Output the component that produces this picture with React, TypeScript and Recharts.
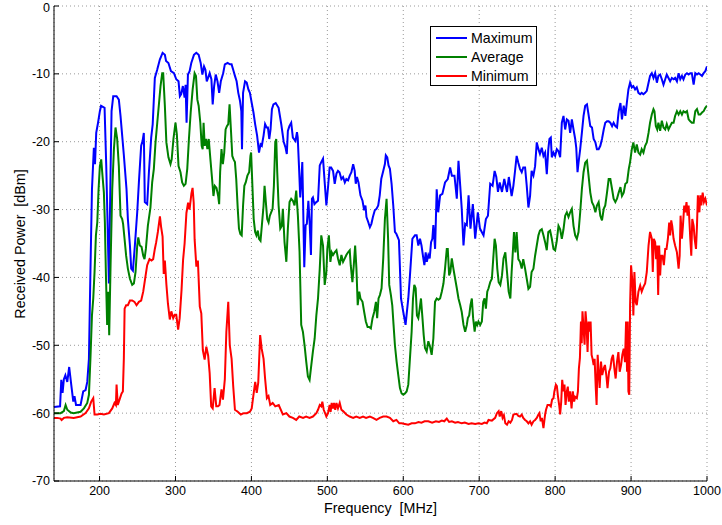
import { LineChart, Line, XAxis, YAxis, CartesianGrid, Legend } from 'recharts';

// [frequency MHz, received power dBm]
const maximum: [number, number][] = [
  [140, -59.1], [148, -59], [149.6, -55.1], [151.3, -57], [153, -55], [155, -54.4], [157.5, -55.4], [160, -53.2],
  [162.7, -55.8], [165.4, -58.3], [167, -57.5], [169, -58.8], [175, -58.8], [178.5, -56.8], [181.6, -56.6], [183.8, -55.4],
  [186, -52], [188, -39], [190, -27], [192.5, -20.9], [194, -23.3], [195.6, -18.7], [198, -17.2], [200.4, -15.5],
  [202, -14.7], [206.6, -15], [208.8, -23.5], [211, -34.3], [212.3, -40.9], [214.5, -24.5], [215.8, -15.5], [218, -13.3],
  [222.4, -13.3], [225.4, -13.8], [227.6, -16.2], [229.8, -19.1], [232, -22], [235.5, -27], [237.3, -31.4], [240, -35.3],
  [241.7, -38.7], [243.9, -39], [246.5, -35.3], [249.6, -30.4], [251.8, -26], [254.8, -20.6], [256.6, -19.9], [258.3, -18.7],
  [259.6, -28.9], [262.7, -29.2], [265, -24.5], [268, -19.4], [270, -17.4], [272.8, -10.6], [275.9, -9.4], [279.4, -7.9],
  [283, -6.9], [286, -7.2], [287.6, -8.1], [290.7, -8.4], [294, -9.6], [298, -9.9], [301, -10.8], [304, -11.1],
  [305.8, -13.3], [307.5, -13], [309.7, -11.8], [312, -13.5], [313.3, -11.6], [314.6, -17.2], [316.4, -10.1], [318.6, -9.6],
  [320.8, -8.4], [324.3, -7.2], [327.4, -6.9], [330.5, -7.2], [333.2, -8.4], [335.4, -10.1], [337.6, -8.9], [339.4, -9.4],
  [341.2, -11.1], [342.9, -10.6], [345, -9.9], [347.3, -10.8], [349, -14.5], [350.9, -11.8], [353, -10.1], [355.3, -11.1],
  [357.5, -12.8], [359.7, -11.1], [362.8, -9.9], [365, -8.6], [368.6, -8.4], [371.7, -8.6], [373.9, -8.6], [376, -9.4],
  [378.3, -10.3], [380.5, -11.1], [382.7, -12.8], [385, -14], [386.7, -15.5], [387.6, -21.1], [389, -12.8], [391.6, -11.1],
  [393.8, -11.3], [396, -12.3], [398, -12.8], [400.4, -14.3], [402.7, -15.7], [404.9, -17.4], [407.5, -19.1], [410, -21.6],
  [412, -20.4], [413.7, -20.6], [416, -19.1], [418, -17.4], [420, -17.9], [421.7, -17.9], [423.5, -19.6], [425.2, -18.2],
  [427, -15.2], [429, -14.5], [432, -14.3], [435.8, -15], [439.4, -17.5], [442.5, -20], [444.8, -20.8], [446.6, -21.8],
  [448, -18.4], [450, -17.7], [452.4, -17.2], [454.6, -19.4], [458, -19.9], [460, -18.6], [461, -19.4], [462.6, -23.5],
  [464.3, -28.2], [465.6, -26], [467, -23], [467.8, -27.4], [469.6, -38.5], [471.4, -32.3], [473, -32.1], [475, -28.7],
  [476.6, -31.8], [478.4, -36.7], [479.7, -28.4], [481, -28.2], [483, -29.2], [485.5, -28.9], [487.7, -28.7], [490, -23.5],
  [492, -23], [494.3, -22.5], [496.5, -26], [498.7, -29.4], [500.9, -26.7], [503, -23.8], [505, -23.8], [507.5, -24.3],
  [509.7, -26.2], [512, -24.7], [514, -24.3], [516, -24.5], [518.5, -25.5], [520.7, -25.2], [523, -26], [525, -25.5],
  [527.3, -25.7], [529.5, -25], [531.7, -24.5], [534, -23.3], [536, -24.3], [537.4, -26.2], [539, -25.2], [541, -26],
  [543.6, -27.9], [546.3, -28.7], [548.5, -30.1], [550.2, -29.4], [551.5, -31.1], [553.7, -31.8], [556, -32.6], [558, -32.1],
  [560, -31.1], [562.5, -30.1], [564.7, -29.9], [567, -29.4], [569, -27.9], [571, -25.5], [573.6, -24.3], [575.8, -23.3],
  [577, -22], [578.9, -22.3], [580.6, -23.5], [582.4, -24], [584.6, -26.2], [586.8, -29.4], [589, -33.3], [591, -33.6],
  [594.3, -34.5], [597, -43.1], [600, -45.1], [603, -47], [606.6, -43.1], [608.8, -39.7], [612, -34.3], [615.4, -33.8],
  [617.6, -33.8], [619.8, -35.3], [622, -34.3], [624, -35.3], [626.4, -37.2], [627.8, -38.2], [629.5, -36.3], [631, -37.7],
  [633, -36.7], [634.8, -37.2], [636.6, -34.8], [638.3, -34.3], [639.6, -32.3], [641, -34.3], [641.9, -35.8], [644, -27],
  [646, -30.4], [648.5, -27.9], [651.5, -27.7], [655, -26], [658.6, -25.5], [661.7, -23.8], [664, -25], [667.4, -25],
  [670.5, -28.4], [672.7, -22.8], [675, -26.5], [677, -29.9], [679.3, -35.3], [681.5, -32.1], [683.7, -32.3], [686, -27.9],
  [688.5, -32.8], [691.6, -29.2], [694.7, -34.3], [698.2, -30.4], [701, -32.8], [705.7, -33.8], [708.8, -31.4], [711.5, -30.9],
  [714.5, -26.2], [717.6, -26.5], [720.3, -24.3], [722.5, -25.2], [724.7, -27.4], [727, -26], [730, -27.4], [733, -25.5],
  [736.6, -27.4], [739, -25.2], [742.7, -28], [745, -26.5], [747, -24.5], [749.3, -22.1], [751.5, -23.1], [753.7, -24],
  [756, -24.5], [758, -23.8], [760.4, -23.8], [762.6, -26.5], [764.8, -29.7], [767, -28], [769, -24.3], [771.4, -25],
  [773.6, -23.6], [775.8, -20.1], [778, -21.1], [780, -21.8], [782.4, -20.9], [784.6, -22.1], [786.8, -21.6], [789, -24.8],
  [791, -21.1], [792.5, -19.6], [794.3, -19.4], [795.6, -22.3], [797.8, -21.6], [800, -22.1], [802.2, -21.1], [804.4, -21.4],
  [806.6, -22.3], [808.8, -17.2], [811, -16.2], [813.2, -18.2], [815.4, -16.7], [817.6, -16.9], [819.8, -18.7], [822, -16.7],
  [824.2, -18.2], [826.4, -19.6], [827.8, -20.9], [829.5, -24.5], [830.8, -23.1], [833, -21.1], [835.2, -18.7], [837.4, -16.2],
  [839.6, -14.7], [841.9, -14.5], [844, -16], [846.3, -17.7], [848.5, -17.9], [850.7, -19.6], [853, -20.1], [855, -21.1],
  [857.3, -21.1], [859.5, -20.6], [861.7, -19.6], [864, -18.2], [866, -17.2], [868.3, -17], [870.5, -17], [872.7, -17.2],
  [875, -17.7], [877, -17.2], [879.3, -17.7], [881.5, -17.9], [883.7, -15.5], [886, -14.3], [888, -16.7], [890.3, -14.7],
  [892.5, -16.2], [894.7, -14], [896.5, -12.3], [898.7, -11.3], [901, -12], [903, -11.8], [905.3, -12.3], [907.5, -12],
  [909.7, -12.8], [912, -13], [914, -12.8], [916.3, -13], [918.5, -12.8], [920.7, -12.5], [923, -11.3], [925, -10.3],
  [927.3, -9.9], [929.5, -10.6], [931.7, -9.9], [934, -11.3], [936, -10.3], [938.3, -10.1], [940.5, -10.8], [942.7, -11.6],
  [945, -10.8], [947, -10.1], [949.3, -10.6], [951.5, -11.1], [953.7, -10.6], [956, -10.8], [958, -10.6], [960.4, -11.1],
  [962.6, -9.9], [964.8, -10.8], [967, -10.3], [969, -10.8], [971.4, -10.1], [973.6, -9.9], [975.8, -10.1], [978, -9.9],
  [980, -9.9], [982.4, -11.6], [984.6, -9.9], [986.8, -10.1], [989, -9.9], [991.2, -10.1], [993.4, -10.3], [995.6, -9.9],
  [997.8, -9.6], [1000, -8.9],
];

const average: [number, number][] = [
  [140, -60], [148.7, -60], [153, -59.7], [155.3, -58.8], [157.5, -59.5], [162, -59.9], [166, -60], [175, -59.8],
  [179.4, -59.3], [183.8, -58.5], [186, -57.3], [188, -51.9], [190, -45.6], [191.7, -43.1], [193.4, -39.2], [195.2, -33.8],
  [197, -31.9], [198.7, -27], [200.4, -23.6], [202.2, -22.6], [203.5, -24.5], [205.7, -27.5], [207, -31.9], [208.3, -39.2],
  [210, -47], [211.4, -42.1], [212.7, -48.5], [214.5, -38.2], [216.7, -27], [218.9, -21.1], [221, -17.9], [223.2, -19.6],
  [225.4, -23.6], [227.6, -30.9], [229.8, -31.4], [231, -32.1], [232.9, -34.3], [235, -36.8], [237.3, -38.7], [240, -40.2],
  [243, -41.1], [245.2, -40.9], [247.4, -39.2], [249.6, -35.3], [251, -34.1], [253, -35.3], [255.3, -35.5], [257.5, -36.8],
  [259.2, -37.3], [261, -35.8], [263.6, -32.4], [267, -29.7], [269.3, -26], [271.5, -24], [273.7, -20.1], [276, -17.2],
  [278, -14.7], [280.3, -11.8], [282.5, -9.9], [283.8, -9.9], [286, -14.7], [288, -20.1], [290.7, -22.3], [293.4, -23.3],
  [295, -22.6], [297.3, -19.6], [300, -17.2], [301.8, -18.9], [304, -23.6], [306.6, -24.5], [308.8, -26], [311, -26.5],
  [313.3, -26.2], [315.5, -24], [317.7, -19.6], [320, -15.7], [322.6, -12.3], [325.2, -9.9], [327, -10.3], [328.8, -13.8],
  [330.5, -14.7], [332.7, -17.2], [334.5, -20.6], [335.8, -21.1], [337, -17.2], [338.5, -20.6], [340.3, -19.6], [342, -21.1],
  [343.8, -19.6], [346, -22.6], [348.2, -25.5], [350, -28], [351.8, -26.5], [354, -26.8], [356.2, -28], [357.5, -29.2],
  [358.8, -24.5], [360.6, -21.1], [362.4, -23.3], [364.2, -21.6], [366, -18.2], [367.7, -17.7], [369.5, -17.4], [371.2, -14.5],
  [373, -18.2], [374.8, -22.1], [376.5, -22.6], [378.3, -23], [380, -25.5], [382, -29.9], [383.6, -32.8], [385.4, -33.6],
  [387.2, -33.8], [389, -29.4], [390.7, -26.5], [392.5, -26], [394.7, -25], [397, -24.5], [398.7, -22.1], [399.6, -21.6],
  [401.3, -26.5], [403, -31.4], [404.9, -33.3], [406.6, -33.8], [408.4, -33.1], [410, -34.3], [412, -34.6], [413.7, -32.4],
  [416, -29.4], [417.3, -26.5], [419, -28.9], [420.8, -31.4], [422.6, -31.9], [424.3, -30.9], [426, -30.4], [427.9, -29.9],
  [429.6, -26.5], [431.4, -20.1], [432.7, -19.6], [434, -24.5], [435.8, -29.4], [438, -32.8], [440, -32.4], [441.4, -29.9],
  [443.6, -34.8], [446, -37.7], [448, -32.8], [450.2, -28.9], [452.4, -28.4], [454.6, -28.7], [456.8, -29.4], [459, -27.2],
  [461.2, -30.9], [463.4, -36.3], [465.6, -47], [467.8, -48], [470, -50], [472.2, -52.4], [474.4, -54.6], [476.6, -55.1],
  [478.9, -52.9], [481, -50.9], [483.3, -49], [485.5, -45.6], [487.7, -43.1], [490, -38.7], [492, -33.8], [494.3, -35.3],
  [496.5, -41.1], [498.7, -39.2], [500, -35.8], [502, -33.8], [504, -37.7], [505.7, -36.3], [507.5, -36.7], [509.7, -36.3],
  [512, -36], [514, -37.2], [516.3, -38.2], [518.5, -36.7], [520.7, -37.7], [523, -37.2], [525, -36.7], [527.3, -36.3],
  [529.5, -36], [530.8, -38.2], [533, -40.7], [534.8, -38.2], [536.6, -35.3], [538.3, -38.7], [540, -44.1], [542, -42.1],
  [543.6, -43.1], [546.3, -43.6], [548.5, -45.1], [550.7, -46.5], [553, -47.3], [555, -47.3], [557.3, -47.5], [559.5, -46],
  [561.7, -45.1], [564, -43.6], [565.6, -46], [567.4, -43.1], [569.2, -42.6], [571.4, -41.6], [573.6, -37.2], [575.8, -31.4],
  [578, -28.4], [580, -34.3], [581.5, -41.1], [583.7, -42.6], [585.5, -44.1], [587.2, -47], [589, -50], [591.2, -52.4],
  [593.4, -54.4], [595.6, -56.3], [597.8, -57.1], [600, -57.3], [602.2, -57.1], [604.4, -56.8], [606.6, -55.8], [608.8, -51.9],
  [611, -48], [612.8, -43.1], [614.5, -41.1], [616.3, -41.6], [618, -45.6], [619.8, -46], [621.6, -44.6], [623.3, -43.1],
  [625, -45.6], [626.9, -48.5], [628.6, -50.4], [630.8, -50.9], [633, -49.4], [635.2, -50.2], [637.4, -51.4], [639.6, -49],
  [641.8, -43.6], [644, -43.1], [646.3, -43.3], [648.5, -43.1], [650.7, -42.1], [652.9, -40.9], [655, -38.7], [657.3, -35.8],
  [658.6, -35.8], [660.4, -39.7], [662, -39.2], [663.9, -37.2], [666, -38.7], [668.3, -40.2], [670.5, -41.6], [672.7, -43.1],
  [675, -44.1], [677, -45.1], [679.3, -47], [681.5, -48], [683.7, -47], [685, -46], [686.8, -45.6], [688.5, -44.1],
  [690.3, -43.1], [692, -46], [694, -48], [695.6, -46.5], [697.4, -47], [699, -46.5], [701.3, -47], [703.5, -46.5],
  [705.3, -43.6], [707, -43.1], [708.8, -44.6], [710.6, -42.1], [712.3, -41.6], [714.5, -40.7], [716.7, -40.2], [718.5, -37.2],
  [720.3, -34.3], [722, -35.3], [723.8, -38.7], [725.6, -40.7], [727.8, -41.1], [730, -39.7], [732, -37.2], [734.4, -36.3],
  [736.6, -39.2], [738.8, -42.1], [741, -43.1], [742.7, -39.2], [744, -36.8], [745.8, -33.3], [747.6, -36.3], [749.3, -33.3],
  [751.5, -37.3], [753.7, -37.7], [756, -38.7], [758, -37.3], [760.4, -38.7], [762.6, -40.2], [764.8, -41.7], [767, -41.4],
  [769, -39.2], [771.4, -38.7], [773.6, -36.8], [775.8, -35.3], [778, -33.8], [780, -33.1], [782.4, -32.9], [784.6, -33.8],
  [786.8, -34.8], [789, -36], [791, -33.3], [793.4, -33.1], [795.6, -34.3], [797.8, -35.8], [800, -36], [802.2, -34.6],
  [804.4, -32.4], [806.6, -32.9], [808.8, -34.3], [811, -32.9], [813.2, -30.9], [815.4, -30.4], [817.6, -31.1], [819.8, -30.4],
  [822, -29.9], [824.2, -32.4], [826.4, -33.8], [828.6, -34.3], [830.8, -33.3], [833, -30.4], [835.2, -27], [837.4, -24.5],
  [839.6, -23.1], [841.9, -22.8], [844, -25], [846.3, -27.5], [848.5, -28.9], [850.7, -29.4], [853, -30.4], [855, -29.4],
  [857.3, -28.9], [859.5, -30.9], [861.7, -31.6], [864, -29.9], [866, -29.4], [868.3, -27.5], [870.5, -25.5], [872.7, -25.5],
  [875, -27], [877, -28.4], [879.3, -28.9], [881.5, -28.4], [883.7, -27.5], [886, -26.7], [888, -28], [890.3, -27.5],
  [892.5, -26.2], [894.7, -26], [897, -24], [898.7, -23], [901, -21.1], [903, -20.1], [905.3, -21.6], [907.5, -20.4],
  [909.7, -21.6], [912, -21.9], [914, -21.1], [916.3, -21.6], [918.5, -20.6], [920.7, -20.1], [923, -18.7], [925, -17.2],
  [927.3, -16], [929.5, -15.2], [930.8, -15.5], [932.6, -17.7], [934.4, -18.2], [936, -17.2], [938.3, -18.4], [940.5, -16.9],
  [942.7, -17.9], [945, -18.2], [947, -17.4], [949.3, -18.2], [951.5, -17.7], [953.7, -17.2], [956, -17.2], [958, -16.2],
  [960.4, -15.5], [962.6, -16], [964.8, -15.5], [967, -16], [969, -15.5], [971.4, -15.7], [973.6, -15.5], [975.8, -16.7],
  [978, -17], [980, -17.2], [982.4, -17.2], [984.6, -15.5], [986.8, -15.2], [989, -16], [991.2, -16], [993.4, -15.7],
  [995.6, -15.5], [997.8, -15], [1000, -14.7],
];

const minimum: [number, number][] = [
  [140, -60.7], [144.3, -60.7], [148.7, -60.8], [150, -61], [153, -60.7], [157.5, -60.6], [166, -60.7], [175, -60.5],
  [181.6, -60], [186, -59.3], [189, -58.3], [191.7, -57.8], [193.4, -60.2], [197, -60.2], [201.3, -60.1], [205.7, -60.2],
  [212.3, -60], [216.7, -59.3], [219.7, -58.5], [221.5, -58.8], [222.4, -55.8], [224, -58.8], [226.3, -58], [229, -57.1],
  [230.7, -56.8], [232, -51.9], [233, -44.6], [235, -44.1], [237.3, -44.1], [240, -43.4], [243, -43.4], [246, -43.6],
  [248.7, -44.1], [251.8, -43.6], [254.8, -43.4], [257.5, -42.1], [260, -40.2], [262.7, -38.2], [265.8, -37.3], [268.4, -37.5],
  [270.6, -37.3], [272.8, -35.8], [274.6, -34.8], [276.8, -33.3], [279.5, -31], [281, -32.5], [283, -34], [284.5, -39.5],
  [286, -37.5], [288, -41], [290, -43.8], [292.5, -46.2], [294.5, -45], [297, -46], [299, -45.5], [301, -45.5],
  [303.5, -47.7], [305.5, -46], [308, -41.8], [310, -37.4], [312, -35], [314.4, -30.5], [316.6, -29], [318.5, -30],
  [321, -27.6], [322.5, -26.8], [324, -29], [325.2, -34.4], [327.5, -38.4], [329.5, -37.5], [332, -44.3], [334, -45.3],
  [336, -50.7], [338.4, -52.1], [340.6, -50.2], [343, -51.5], [345, -54.1], [347, -59], [349, -59.3], [351.5, -56.3],
  [353.7, -59], [356, -59], [358, -58.8], [360.6, -56.5], [362.5, -58], [365, -55], [367, -48], [369.5, -43.6],
  [371.5, -50], [373.9, -52], [376, -56], [378.3, -59.5], [382, -59.8], [386, -60.2], [390, -60], [394, -60],
  [398, -59.8], [400.4, -59.3], [402.7, -57.3], [405, -55.4], [407, -57], [409, -55.5], [411.5, -48.5], [413.5, -50.5],
  [416, -52], [418, -54.9], [420.4, -57.8], [422.5, -57.5], [424.8, -58.8], [428, -58.5], [431.4, -59], [436, -58.8],
  [441.4, -60.2], [446, -60], [450, -60.5], [454.6, -60.7], [459, -61], [463, -60.5], [468, -60.7], [472, -60.5],
  [476.6, -60.7], [481, -60.5], [485.5, -60], [487.7, -59.5], [490, -58.8], [492, -59], [493.4, -58.3], [495.2, -59.5],
  [497, -60], [498.7, -60.5], [500.9, -60], [503, -58.8], [504.3, -59.8], [505.7, -58.5], [507.5, -59.3], [508.8, -58.5],
  [510.4, -59.5], [512, -58.5], [514, -59.3], [516.3, -58.5], [518.5, -59.5], [520.7, -59.7], [525, -60.2], [529.5, -60.5],
  [534, -60.7], [538, -60.5], [542.7, -60.7], [547, -60.5], [551, -60.7], [556, -60.5], [560, -60.7], [564.7, -61],
  [569, -60.7], [573.6, -60.5], [578, -60.5], [582.4, -60.7], [586.8, -61.2], [591, -61], [594.7, -61.5], [597.8, -61.5],
  [602, -61.6], [606.6, -61.7], [611, -61.5], [615.4, -61.5], [620, -61.3], [624, -61.4], [628, -61.2], [633, -61.2],
  [638, -61.4], [643, -61.2], [647, -61.3], [650.7, -61.1], [654, -61.2], [657.3, -60.8], [660.4, -61.3], [664, -61.2],
  [668.3, -61.4], [672, -61.3], [677, -61.5], [681, -61.4], [686, -61.6], [690, -61.5], [694.7, -61.6], [699, -61.5],
  [703.5, -61.6], [707, -61.4], [710, -61.5], [712.3, -61], [716.7, -61.1], [721, -60.7], [723.3, -60], [725.6, -59.7],
  [727, -60.5], [729, -59.7], [730.8, -60.7], [732.5, -60.3], [734.4, -61.5], [736.6, -61.7], [738.8, -61.2], [741, -61.4],
  [743.2, -61], [745, -60.2], [749.3, -60.1], [751.5, -60.4], [753.7, -60.5], [756, -60.2], [758, -60.7], [760.4, -61],
  [762.6, -61.2], [764.8, -61.5], [767, -61.2], [769, -61.7], [771.4, -61.2], [773.6, -61], [775.8, -60.7], [778, -60.2],
  [779.3, -60], [781, -61.2], [782.6, -60.7], [784.6, -62.2], [786.8, -60.2], [788, -59.5], [790, -58.8], [792.5, -58.8],
  [794.3, -59], [796, -58], [797.8, -57.8], [799, -56.8], [801, -55.8], [802.3, -56], [803.5, -57.3], [805.3, -58.8],
  [806.6, -60.2], [808, -58.3], [809.3, -55.1], [811, -56.8], [812.3, -55.8], [813.7, -58.8], [815.4, -56.8], [816.7, -56.1],
  [818, -58.3], [819.8, -56.8], [821.6, -59.3], [823.3, -56.8], [825, -58.3], [826.4, -57.6], [828.6, -57.8], [830, -56.8],
  [831.3, -53.4], [832.6, -51.9], [834, -46.5], [835, -49.7], [836, -45], [837.4, -47.5], [838.8, -49.9], [840, -45],
  [841.4, -47], [842.7, -51], [844, -46.5], [845.4, -48], [846.7, -46.5], [848, -51.4], [849.3, -52], [850.7, -52.9],
  [852, -52], [853.5, -56.3], [854.6, -58.8], [856, -51.4], [857.3, -53.9], [858.6, -56.3], [860.4, -52.4], [862, -54.4],
  [864, -53.4], [865.6, -52.9], [867.4, -54.4], [869, -56.3], [871, -53.9], [872.7, -53.4], [874.4, -52], [876.2, -51.4],
  [878, -53.4], [879.7, -54.9], [881.5, -52.4], [883.3, -51], [885, -53.9], [886.8, -52.9], [888.5, -51.4], [890.3, -50.5],
  [892, -52.5], [893.4, -46.5], [894.7, -53.9], [895.6, -46.5], [896.5, -56.8], [897.6, -57.3], [898.7, -44.1], [900, -38.2],
  [901.8, -40.7], [903, -45.6], [904.4, -39.2], [906, -43.6], [907.5, -44.1], [909.7, -42.1], [912, -41.2], [914, -42.1],
  [916.3, -41.4], [918.5, -40.9], [920.7, -39.2], [923, -35.3], [925, -33.3], [927.3, -34.3], [928.6, -39.2], [930, -34.3],
  [931.7, -34.8], [933, -37.3], [934.4, -35.3], [935.7, -42.6], [937, -35.3], [938.3, -39.7], [939.6, -36.8], [941.4, -36.8],
  [943.2, -38.2], [945, -35.8], [946.7, -35.8], [948.5, -34.3], [950.2, -31.9], [951.5, -33.8], [952.9, -31.6], [954.2, -32.4],
  [956, -34.3], [958, -35.3], [960.4, -36.3], [962.6, -38.7], [964, -36.8], [965.2, -30.9], [967, -34.3], [968.3, -32.4],
  [970, -29.4], [971.4, -30.4], [973, -28.9], [974.4, -30.9], [975.8, -29.4], [978, -34.3], [979.3, -36.8], [980.6, -31.4],
  [982.4, -32.4], [983.7, -34.3], [985.5, -35.8], [986.8, -32.4], [988, -27.9], [990, -30.4], [991.2, -27.9], [992.5, -29.4],
  [994.3, -27.5], [996, -28.9], [997.8, -28.4], [1000, -29.4],
];

const xTicks = [200, 300, 400, 500, 600, 700, 800, 900, 1000];
const yTicks = [-70, -60, -50, -40, -30, -20, -10, 0];

const FONT = '"Liberation Sans", Arial, Helvetica, sans-serif';

const series = [
  { name: 'Maximum', color: '#0000ff', points: maximum },
  { name: 'Average', color: '#008000', points: average },
  { name: 'Minimum', color: '#ff0000', points: minimum },
];

const toRows = (pts: [number, number][]) => pts.map(([f, v]) => ({ f, v }));

const LegendBox = () => (
  <div
    style={{
      border: '1px solid #000',
      background: '#fff',
      padding: '1px 4px 0 5px',
      fontFamily: FONT,
      fontSize: 14.2,
      color: '#000',
    }}
  >
    {series.map((s) => (
      <div key={s.name} style={{ display: 'flex', alignItems: 'center', height: 19 }}>
        <span style={{ display: 'inline-block', width: 31, height: 2, background: s.color, marginRight: 4 }} />
        <span>{s.name}</span>
      </div>
    ))}
  </div>
);

const YLabel = () => (
  <text
    x={0}
    y={0}
    transform="translate(25,244) rotate(-90)"
    textAnchor="middle"
    fontFamily={FONT}
    fontSize={14.3}
    fill="#000"
  >
    {'Received Power\u00a0 [dBm]'}
  </text>
);

export default function App() {
  const tickStyle = { fontSize: 12.5, fill: '#000', fontFamily: FONT };
  return (
    <div style={{ position: 'absolute', left: 0, top: 0, background: '#fff' }}>
      <LineChart width={722} height={525} margin={{ top: 6, right: 15, bottom: 0, left: 0 }}>
        <CartesianGrid stroke="#999" strokeDasharray="1 3" />
        <XAxis
          dataKey="f"
          type="number"
          domain={[140, 1000]}
          ticks={xTicks}
          allowDataOverflow
          height={44}
          tick={tickStyle}
          tickSize={-5}
          tickMargin={10}
          axisLine={{ stroke: '#000' }}
          tickLine={{ stroke: '#000' }}
          label={{
            value: 'Frequency\u00a0 [MHz]',
            position: 'insideBottom',
            offset: 12,
            style: { fontSize: 14.3, fill: '#000', fontFamily: FONT },
          }}
        />
        <XAxis
          xAxisId="top"
          orientation="top"
          type="number"
          domain={[140, 1000]}
          ticks={xTicks}
          allowDataOverflow
          height={0}
          tickFormatter={() => ''}
          tickSize={-5}
          axisLine={{ stroke: '#000' }}
          tickLine={{ stroke: '#000' }}
        />
        <YAxis
          type="number"
          domain={[-70, 0]}
          ticks={yTicks}
          allowDataOverflow
          width={54}
          tick={tickStyle}
          tickSize={-5}
          tickMargin={9}
          axisLine={{ stroke: '#000' }}
          tickLine={{ stroke: '#000' }}
          label={{ content: () => <YLabel /> }}
        />
        <YAxis
          yAxisId="right"
          orientation="right"
          type="number"
          domain={[-70, 0]}
          ticks={yTicks}
          allowDataOverflow
          width={0}
          tickFormatter={() => ''}
          tickSize={-5}
          axisLine={{ stroke: '#000' }}
          tickLine={{ stroke: '#000' }}
        />
        <Legend
          layout="vertical"
          align="center"
          verticalAlign="middle"
          content={() => <LegendBox />}
          wrapperStyle={{ position: 'absolute', left: 430, top: 26, width: 'auto', height: 'auto' }}
        />
        {series.map((s) => (
          <Line
            key={s.name}
            name={s.name}
            data={toRows(s.points)}
            dataKey="v"
            type="linear"
            stroke={s.color}
            strokeWidth={2}
            dot={false}
            activeDot={false}
            isAnimationActive={false}
          />
        ))}
      </LineChart>
    </div>
  );
}
